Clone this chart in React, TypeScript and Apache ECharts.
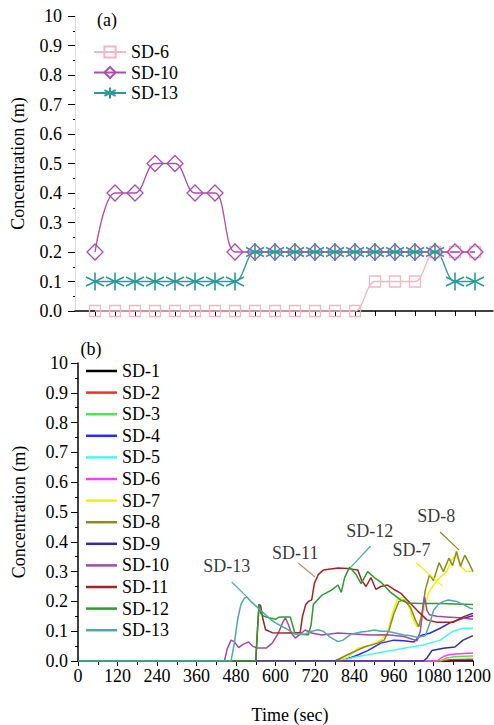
import React, { useEffect, useRef } from 'react';
import * as echarts from 'echarts';

const FONT = 'Liberation Serif, Times New Roman, serif';

// ---------- panel (a) ----------
const topTimes = [60, 120, 180, 240, 300, 360, 420, 480, 540, 600, 660, 720, 780, 840, 900, 960, 1020, 1080, 1140, 1200];
const topSD6 = [0, 0, 0, 0, 0, 0, 0, 0, 0, 0, 0, 0, 0, 0, 0.1, 0.1, 0.1, 0.2, 0.2, 0.2];
const topSD10 = [0.2, 0.4, 0.4, 0.5, 0.5, 0.4, 0.4, 0.2, 0.2, 0.2, 0.2, 0.2, 0.2, 0.2, 0.2, 0.2, 0.2, 0.2, 0.2, 0.2];
const topSD13 = [0.1, 0.1, 0.1, 0.1, 0.1, 0.1, 0.1, 0.1, 0.2, 0.2, 0.2, 0.2, 0.2, 0.2, 0.2, 0.2, 0.2, 0.2, 0.1, 0.1];
const topTickTimes = [60, 120, 180, 240, 300, 360, 420, 480, 540, 600, 660, 720, 780, 840, 900, 960, 1020, 1080, 1140, 1200];

// ---------- panel (b) ----------
const bottomNames = ['SD-1', 'SD-2', 'SD-3', 'SD-4', 'SD-5', 'SD-6', 'SD-7', 'SD-8', 'SD-9', 'SD-10', 'SD-11', 'SD-12', 'SD-13'];
const bottomColors = ['#000000', '#ff2a2a', '#4ee64e', '#2a2aff', '#4cf5f5', '#ff3cff', '#f2f200', '#8c8c1e', '#2f2f99', '#a24aa8', '#a02424', '#2f9a2f', '#4fa9a9'];

const sd1 = [[0, 0], [1120, 0], [1150, 0.003], [1200, 0.004]];
const sd2 = [[0, 0], [1100, 0], [1130, 0.004], [1200, 0.006]];
const sd3 = [[0, 0], [1100, 0], [1120, 0.01], [1150, 0.015], [1200, 0.017]];
const sd4 = [[0, 0], [780, 0], [800, 0.005], [830, 0.012], [850, 0.02], [880, 0.035], [920, 0.06], [960, 0.07], [990, 0.068], [1020, 0.064], [1040, 0.085], [1070, 0.094], [1100, 0.11], [1130, 0.128], [1160, 0.14], [1200, 0.152]];
const sd5 = [[0, 0], [800, 0], [840, 0.013], [910, 0.027], [990, 0.043], [1050, 0.054], [1100, 0.07], [1140, 0.1], [1170, 0.11], [1200, 0.11]];
const sd6 = [[0, 0], [1090, 0], [1110, 0.015], [1130, 0.022], [1170, 0.025], [1200, 0.027]];
const sd7 = [[0, 0], [790, 0], [820, 0.013], [850, 0.043], [890, 0.054], [920, 0.07], [940, 0.094], [955, 0.16], [970, 0.205], [990, 0.215], [1005, 0.19], [1015, 0.148], [1030, 0.115], [1040, 0.12], [1050, 0.17], [1065, 0.228], [1080, 0.255], [1100, 0.28], [1120, 0.3], [1135, 0.34], [1150, 0.355], [1165, 0.315], [1180, 0.3], [1200, 0.3]];
const sd8 = [[0, 0], [780, 0], [830, 0.027], [870, 0.047], [910, 0.06], [930, 0.07], [945, 0.104], [960, 0.16], [975, 0.2], [990, 0.205], [1010, 0.18], [1025, 0.138], [1035, 0.115], [1045, 0.16], [1055, 0.238], [1068, 0.29], [1080, 0.27], [1097, 0.33], [1110, 0.3], [1127, 0.345], [1138, 0.32], [1150, 0.368], [1162, 0.318], [1175, 0.355], [1187, 0.33], [1200, 0.3]];
const sd9 = [[0, 0], [1050, 0], [1060, 0.01], [1075, 0.035], [1110, 0.043], [1145, 0.047], [1170, 0.07], [1200, 0.085]];
const sd10 = [[0, 0], [445, 0], [453, 0.04], [465, 0.07], [475, 0.065], [488, 0.045], [500, 0.055], [518, 0.064], [530, 0.05], [543, 0.044], [573, 0.044], [590, 0.06], [609, 0.094], [622, 0.13], [630, 0.145], [640, 0.12], [648, 0.094], [660, 0.077], [675, 0.09], [690, 0.104], [710, 0.094], [740, 0.087], [790, 0.094], [850, 0.09], [890, 0.087], [940, 0.088], [990, 0.082], [1030, 0.068], [1040, 0.1], [1047, 0.17], [1053, 0.215], [1060, 0.17], [1068, 0.155], [1090, 0.15], [1120, 0.148], [1160, 0.145], [1200, 0.14]];
const sd11 = [[0, 0], [540, 0], [545, 0.1], [550, 0.19], [555, 0.185], [562, 0.14], [570, 0.105], [590, 0.095], [630, 0.094], [675, 0.096], [682, 0.15], [692, 0.19], [700, 0.2], [710, 0.205], [718, 0.26], [730, 0.29], [745, 0.305], [790, 0.312], [820, 0.31], [850, 0.305], [862, 0.27], [875, 0.25], [890, 0.28], [905, 0.24], [920, 0.25], [940, 0.255], [960, 0.24], [980, 0.228], [1000, 0.205], [1030, 0.17], [1060, 0.138], [1090, 0.13], [1140, 0.13], [1170, 0.148], [1200, 0.16]];
const sd12 = [[0, 0], [540, 0], [545, 0.1], [550, 0.19], [555, 0.16], [565, 0.15], [580, 0.145], [600, 0.14], [610, 0.147], [620, 0.148], [645, 0.148], [652, 0.12], [660, 0.09], [700, 0.088], [708, 0.12], [715, 0.19], [740, 0.22], [770, 0.238], [790, 0.255], [800, 0.23], [810, 0.28], [825, 0.315], [845, 0.29], [860, 0.26], [880, 0.3], [900, 0.28], [920, 0.265], [950, 0.23], [980, 0.205], [1000, 0.195], [1040, 0.193], [1100, 0.193], [1200, 0.19]];
const sd13 = [[0, 0], [465, 0], [475, 0.06], [485, 0.14], [495, 0.19], [505, 0.21], [513, 0.215], [525, 0.2], [540, 0.185], [555, 0.17], [570, 0.155], [585, 0.14], [600, 0.128], [630, 0.11], [660, 0.09], [690, 0.09], [710, 0.1], [730, 0.105], [745, 0.1], [766, 0.08], [790, 0.065], [805, 0.07], [830, 0.09], [860, 0.097], [880, 0.1], [900, 0.104], [920, 0.1], [940, 0.1], [960, 0.095], [990, 0.087], [1010, 0.085], [1030, 0.08], [1055, 0.085], [1070, 0.13], [1080, 0.17], [1095, 0.19], [1110, 0.2], [1125, 0.205], [1150, 0.2], [1170, 0.19], [1190, 0.178], [1200, 0.175]];
const bottomData = [sd1, sd2, sd3, sd4, sd5, sd6, sd7, sd8, sd9, sd10, sd11, sd12, sd13];

// annotations: label text, label position, leader start, leader end, leader colour
const annoLabels = ['SD-13', 'SD-11', 'SD-12', 'SD-7', 'SD-8'];
const annoTextAt = [[452, 0.319], [660, 0.362], [886, 0.436], [1013, 0.372], [1088, 0.487]];
const annoLeadFrom = [[467, 0.265], [669, 0.329], [889, 0.386], [1028, 0.329], [1100, 0.433]];
const annoLeadTo = [[513, 0.215], [720, 0.282], [829, 0.315], [1107, 0.252], [1158, 0.372]];
const annoColors = ['#4fa9a9', '#c8906a', '#4fa9a9', '#f2f200', '#8c8c1e'];

const STAR = 'path://M0,-10L0,10M-8.66,-5L8.66,5M-8.66,5L8.66,-5';

const yFmt = (v: number) => (Math.abs(v - 1) < 1e-9 ? '10' : v.toFixed(1));

function buildOption() {
  const series: any[] = [];
  const topDefs = [
    { name: 'a:SD-6', vals: topSD6, color: '#f4b6c0', symbol: 'rect', size: 11, bw: 1.3 },
    { name: 'a:SD-10', vals: topSD10, color: '#ad4cb0', symbol: 'diamond', size: 16, bw: 1.3 },
    { name: 'a:SD-13', vals: topSD13, color: '#2a9a98', symbol: STAR, size: 18, bw: 1.6 },
  ];
  topDefs.forEach((d) => {
    series.push({
      type: 'line',
      name: d.name,
      xAxisIndex: 0,
      yAxisIndex: 0,
      data: topTimes.map((t, i) => [t, d.vals[i]]),
      smooth: 0.35,
      symbol: d.symbol,
      symbolSize: d.size,
      showAllSymbol: true,
      clip: false,
      lineStyle: { color: d.color, width: 1.3 },
      itemStyle: { color: 'rgba(255,255,255,0)', borderColor: d.color, borderWidth: d.bw },
    });
  });
  bottomNames.forEach((n, i) => {
    series.push({
      type: 'line',
      name: n,
      xAxisIndex: 1,
      yAxisIndex: 1,
      data: bottomData[i],
      symbol: 'none',
      lineStyle: { color: bottomColors[i], width: 1.5 },
      itemStyle: { color: bottomColors[i] },
    });
  });
  annoLabels.forEach((lab, i) => {
    series.push({
      type: 'line',
      name: 'lead-' + lab,
      xAxisIndex: 1,
      yAxisIndex: 1,
      data: [annoLeadFrom[i], annoLeadTo[i]],
      symbol: 'none',
      silent: true,
      lineStyle: { color: annoColors[i], width: 1.2 },
    });
    series.push({
      type: 'scatter',
      name: 'label-' + lab,
      xAxisIndex: 1,
      yAxisIndex: 1,
      data: [annoTextAt[i]],
      symbolSize: 1,
      silent: true,
      itemStyle: { color: 'rgba(0,0,0,0)' },
      label: {
        show: true,
        position: 'inside',
        formatter: lab,
        color: '#000',
        fontFamily: FONT,
        fontSize: 18,
      },
    });
  });

  const textStyle = (s: string, x: number, y: number) => ({
    type: 'text',
    x,
    y,
    style: { text: s, fill: '#000', fontFamily: FONT, fontSize: 18, align: 'center', verticalAlign: 'middle' },
  });

  return {
    animation: false,
    backgroundColor: '#ffffff',
    textStyle: { fontFamily: FONT },
    grid: [
      { left: 75, top: 16, width: 418, height: 295 },
      { left: 78, top: 363, right: 18, bottom: 64 },
    ],
    xAxis: [
      {
        type: 'value',
        gridIndex: 0,
        min: 0,
        max: 1254,
        offset: 15,
        axisLine: { lineStyle: { color: '#000', width: 1.5 } },
        axisTick: { show: true, customValues: topTickTimes, length: 5, lineStyle: { color: '#000' } },
        axisLabel: { show: false },
        splitLine: { show: false },
      },
      {
        type: 'value',
        gridIndex: 1,
        min: 0,
        max: 1200,
        interval: 120,
        axisLine: { lineStyle: { color: '#000', width: 1.5 } },
        axisTick: { length: 5, lineStyle: { color: '#000' } },
        minorTick: { show: true, splitNumber: 2, length: 4, lineStyle: { color: '#000' } },
        axisLabel: {
          color: '#000',
          fontFamily: FONT,
          fontSize: 18,
          margin: 6,
          hideOverlap: false,
          showMaxLabel: true,
          showMinLabel: true,
          formatter: (v: number) => String(v),
        },
        splitLine: { show: false },
      },
    ],
    yAxis: [
      {
        type: 'value',
        gridIndex: 0,
        min: 0,
        max: 1,
        interval: 0.1,
        name: 'Concentration (m)',
        nameLocation: 'middle',
        nameGap: 48,
        nameTextStyle: { color: '#000', fontFamily: FONT, fontSize: 18 },
        axisLine: { show: true, lineStyle: { color: '#dddddd', width: 1 } },
        axisTick: { show: true, length: 7, lineStyle: { color: '#000' } },
        minorTick: { show: true, splitNumber: 2, length: 2, lineStyle: { color: '#000' } },
        axisLabel: { color: '#000', fontFamily: FONT, fontSize: 18, margin: 13, formatter: yFmt },
        splitLine: { show: false },
      },
      {
        type: 'value',
        gridIndex: 1,
        min: 0,
        max: 1,
        interval: 0.1,
        name: 'Concentration (m)',
        nameLocation: 'middle',
        nameGap: 50,
        nameTextStyle: { color: '#000', fontFamily: FONT, fontSize: 18 },
        axisLine: { show: true, lineStyle: { color: '#000', width: 1.5 } },
        axisTick: { show: true, length: 7, lineStyle: { color: '#000' } },
        minorTick: { show: true, splitNumber: 2, length: 3, lineStyle: { color: '#000' } },
        axisLabel: { color: '#000', fontFamily: FONT, fontSize: 18, margin: 10, formatter: yFmt },
        splitLine: { show: false },
      },
    ],
    legend: [
      {
        data: ['a:SD-6', 'a:SD-10', 'a:SD-13'],
        orient: 'vertical',
        left: 93,
        top: 43,
        itemWidth: 32,
        itemHeight: 14,
        itemGap: 2.5,
        padding: 0,
        selectedMode: false,
        formatter: (n: string) => n.replace('a:', ''),
        textStyle: { color: '#000', fontFamily: FONT, fontSize: 18, lineHeight: 18 },
      },
      {
        data: bottomNames.map((n) => ({ name: n, icon: 'rect' })),
        orient: 'vertical',
        left: 86,
        top: 362,
        itemWidth: 31,
        itemHeight: 2.5,
        itemGap: 3.6,
        padding: 0,
        selectedMode: false,
        textStyle: { color: '#000', fontFamily: FONT, fontSize: 18, lineHeight: 18 },
      },
    ],
    graphic: [
      textStyle('(a)', 107, 20),
      textStyle('(b)', 91, 349),
      textStyle('Time (sec)', 290, 715),
    ],
    series,
  };
}

export default function App() {
  const ref = useRef<HTMLDivElement>(null);
  useEffect(() => {
    if (!ref.current) return;
    const chart = echarts.init(ref.current, null, { renderer: 'svg' });
    chart.setOption(buildOption() as any);
    return () => chart.dispose();
  }, []);
  return <div ref={ref} style={{ position: 'fixed', left: 0, top: 0, width: 494, height: 725 }} />;
}
